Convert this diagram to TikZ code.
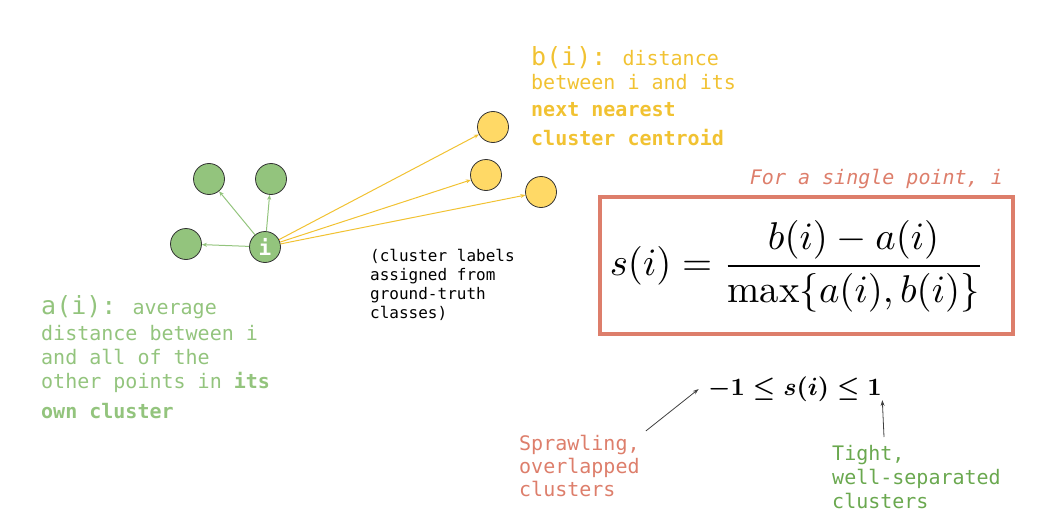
\documentclass[tikz,border=0pt]{standalone}
\usepackage{amsmath,amssymb}
\usepackage{graphicx}
\usepackage{fontspec}
\newfontfamily\codefont{DejaVu Sans Mono}
\usepackage{xcolor}
\usepackage{tikz}
\usetikzlibrary{arrows.meta,positioning}

\definecolor{ptgreen}{HTML}{93C47D}
\definecolor{ptyellow}{HTML}{FFD966}
\definecolor{txtyellow}{HTML}{F1C232}
\definecolor{salmon}{HTML}{DD7E6B}
\definecolor{txtgreen}{HTML}{6AA84F}

\begin{document}
\begin{tikzpicture}[
  x=1pt, y=-1pt,
  pt/.style={circle, draw=black!80, fill=ptgreen, line width=0.8pt,
             minimum size=31pt, inner sep=0pt},
  nb/.style={pt, fill=ptyellow},
  own/.style={-{Stealth[length=5pt,width=4pt]}, draw=ptgreen, line width=1pt},
  far/.style={own, draw=txtyellow},
  note/.style={inner sep=0pt, align=left, anchor=north west,
               font=\codefont\fontsize{20}{24}\selectfont},
  ptr/.style={-{Stealth[length=6pt,width=4pt]}, draw=black!75, line width=0.8pt}
]
\useasboundingbox (0,0) rectangle (1046,524);

% Points in the own cluster
\node[pt, text=white, font=\codefont\bfseries\fontsize{21}{21}\selectfont] (i) at (265,247) {i};
\node[pt] (g1) at (209,179) {};
\node[pt] (g2) at (271,179) {};
\node[pt] (g3) at (186,244) {};

% Centroids of the other clusters
\node[nb] (y1) at (493,127) {};
\node[nb] (y2) at (486,175) {};
\node[nb] (y3) at (541,192) {};

% Distances from i
\draw[own] (i) -- (g1);
\draw[own] (i) -- (g2);
\draw[own] (i) -- (g3);
\draw[far] (i) -- (y1);
\draw[far] (i) -- (y2);
\draw[far] (i) -- (y3);

% Definitions of a(i) and b(i)
\node[note, text=txtyellow] (bdef) at (531,46)
  {{\fontsize{25}{25}\selectfont b(i):} distance\\between i and its\\[3pt]
   \textbf{next nearest}\\[5pt]\textbf{cluster centroid}};
\node[note, text=ptgreen] (adef) at (41,295)
  {{\fontsize{25}{25}\selectfont a(i):} average\\[2pt]distance between i\\
   and all of the\\other points in \textbf{its}\\[6pt]\textbf{own cluster}};
\node[note, font=\codefont\fontsize{16}{19}\selectfont] (gt) at (370,249)
  {(cluster labels\\assigned from\\ground-truth\\classes)};

% Silhouette formula
\node[draw=salmon, line width=4pt, minimum width=413pt, minimum height=137pt]
  (sbox) at (806.5,265.5) {};
\node (sform) at (797,266)
  {\scalebox{3.87}{$\displaystyle s(i)=\frac{b(i)-a(i)}{\max\{a(i),b(i)\}}$}};
\node[anchor=base east, inner sep=0pt, text=salmon,
      font=\codefont\itshape\fontsize{20}{24}\selectfont] (single) at (1003,184)
  {For a single point, i};

% Range of the score
\node (ineq) at (795,389)
  {\scalebox{2.5}{\boldmath$-1\leq s(i)\leq 1$}};
\node[note, text=salmon, font=\codefont\fontsize{20}{23}\selectfont] (spraw) at (519,435)
  {Sprawling,\\overlapped\\clusters};
\node[note, text=txtgreen] (tight) at (832,445)
  {Tight,\\well-separated\\clusters};
\draw[ptr] ([xshift=6pt, yshift=4pt]spraw.north east) -- ([xshift=-6pt]ineq.west);
\draw[ptr] ([xshift=52pt, yshift=8pt]tight.north west) -- ([shift={(-3,-5)}]ineq.south east);
\end{tikzpicture}
\end{document}
